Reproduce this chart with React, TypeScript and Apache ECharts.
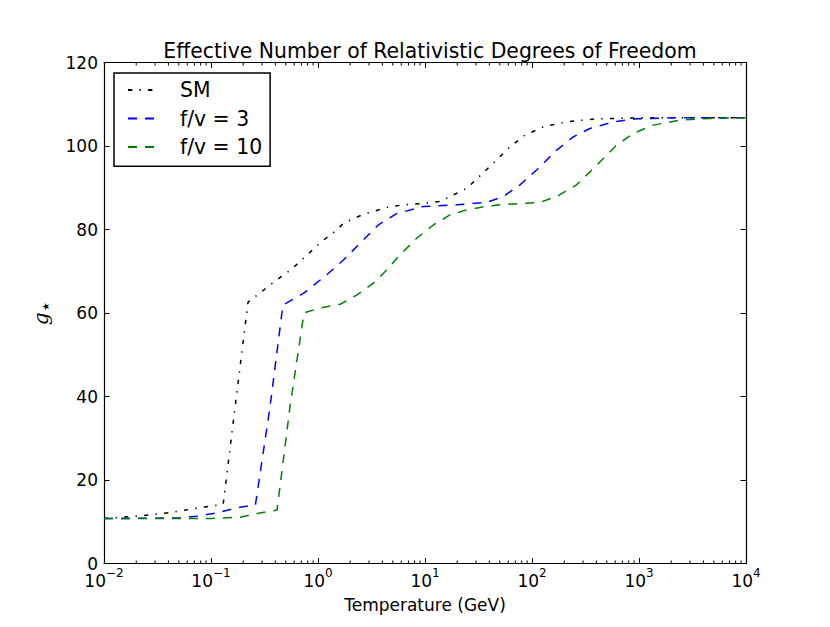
import React, { useEffect, useRef } from "react";
import * as echarts from "echarts";

const TITLE = "Effective Number of Relativistic Degrees of Freedom";
const X_NAME = "Temperature (GeV)";
const SERIES_NAMES = ["SM", "f/v = 3", "f/v = 10"];
const COLORS = ["#000000", "#0000ff", "#008000"];

const smT = [0.01, 0.0218, 0.044, 0.068, 0.116, 0.13, 0.168, 0.222, 0.41, 0.568, 0.79, 1.08, 1.5, 1.73, 2.58, 4.4, 5.84, 9, 13.8, 24.7, 43.5, 62.3, 86, 128, 211, 403, 1000, 10000];
const smG = [10.75, 11.4, 12.3, 13.1, 14.0, 14.2, 37.5, 62.6, 67.9, 70.5, 73.9, 77.1, 79.9, 81.5, 83.5, 85.3, 85.8, 86.2, 86.7, 89.9, 95.9, 99.8, 102.6, 104.6, 105.8, 106.5, 106.75, 106.75];

const fv3T = [0.01, 0.051, 0.079, 0.121, 0.187, 0.26, 0.356, 0.47, 0.73, 1.2, 1.73, 2.65, 3.66, 5.43, 9.6, 19.8, 37.8, 54, 77.3, 111, 170, 243, 348, 575, 951, 2000, 10000];
const fv3G = [10.75, 10.9, 11.4, 12.3, 13.5, 14.0, 37.5, 61.9, 64.7, 69.1, 72.7, 77.5, 81.1, 83.8, 85.5, 85.9, 86.5, 87.9, 90.7, 94.3, 99.0, 102.2, 104.2, 105.8, 106.5, 106.75, 106.75];

const fv10T = [0.01, 0.1, 0.187, 0.287, 0.414, 0.547, 0.74, 1.04, 1.61, 2.3, 3.29, 4.39, 5.84, 8.36, 12.0, 17.1, 24.5, 37.8, 54, 119, 176, 261, 348, 464, 618, 885, 1361, 2416, 4600, 10000];
const fv10G = [10.75, 10.8, 11.1, 12.1, 12.8, 37.5, 60.0, 61.2, 62.1, 64.3, 67.1, 70.3, 73.9, 77.9, 81.1, 83.5, 84.7, 85.6, 86.0, 86.5, 88.1, 90.7, 93.8, 97.0, 100.2, 103.0, 105.0, 106.2, 106.6, 106.75];

const X_MIN = 0.01;
const X_MAX = 10000;
const Y_MIN = 0;
const Y_MAX = 120;
const Y_STEP = 20;

const minorTicks: number[] = [];
for (let e = -2; e < 4; e++) {
  for (let m = 2; m <= 9; m++) minorTicks.push(m * Math.pow(10, e));
}

const FONT = "DejaVu Sans";

export default function App() {
  const ref = useRef<HTMLDivElement>(null);
  useEffect(() => {
    document.body.style.margin = "0";
    const chart = echarts.init(ref.current!, null, { renderer: "svg" });
    const pairs = (xs: number[], ys: number[]) => xs.map((x, i) => [x, ys[i]]);
    const dashes: any[] = [[4.3, 7.2, 1.4, 7.2], [9, 8], [9, 8]];
    const datas = [pairs(smT, smG), pairs(fv3T, fv3G), pairs(fv10T, fv10G)];

    const xAxisBase = {
      type: "log",
      logBase: 10,
      min: X_MIN,
      max: X_MAX,
      splitNumber: 6,
      splitLine: { show: false },
      axisLine: { show: true, onZero: false, lineStyle: { color: "#000", width: 1.2 } },
      axisTick: { show: true, inside: true, length: 5.5, lineStyle: { color: "#000", width: 1 } },
      minorTick: { show: false },
    };

    chart.setOption({
      animation: false,
      backgroundColor: "#ffffff",
      textStyle: { fontFamily: FONT },
      title: {
        text: TITLE,
        left: 425,
        textAlign: "center",
        top: 36,
        textStyle: { fontFamily: FONT, fontSize: 20.4, fontWeight: "normal", color: "#000" },
      },
      grid: { left: 104, right: 84, top: 62.5, bottom: 63.5, containLabel: false },
      legend: {
        data: SERIES_NAMES,
        orient: "vertical",
        align: "left",
        left: 114,
        top: 73,
        itemWidth: 26,
        itemHeight: 14,
        itemGap: 8.5,
        padding: [7, 8, 9.2, 13],
        borderColor: "#000",
        borderWidth: 1.5,
        borderRadius: 0,
        backgroundColor: "#fff",
        itemStyle: { opacity: 0 },
        formatter: (name: string) => `{p|}{t|${name}}`,
        textStyle: {
          fontFamily: FONT,
          fontSize: 20.4,
          color: "#000",
          align: "left",
          rich: {
            p: { width: 21, height: 24, align: "left" },
            t: { fontFamily: FONT, fontSize: 20.4, color: "#000", lineHeight: 24, align: "left" },
          },
        },
      },
      xAxis: [
        {
          ...xAxisBase,
          position: "bottom",
          name: X_NAME,
          nameLocation: "middle",
          nameGap: 33,
          nameTextStyle: { fontFamily: FONT, fontSize: 17, color: "#000" },
          axisLabel: {
            show: true,
            margin: 3,
            color: "#000",
            formatter: (v: number) => {
              const e = Math.round(Math.log10(v));
              return `{b|10}{s|${e < 0 ? "\u2212" + -e : e}}`;
            },
            rich: {
              b: { fontFamily: FONT, fontSize: 17, color: "#000" },
              s: { fontFamily: FONT, fontSize: 12, color: "#000", padding: [0, 0, 16, 0] },
            },
          },
        },
        {
          ...xAxisBase,
          position: "top",
          axisLabel: { show: false },
        },
      ],
      yAxis: [
        {
          type: "value",
          min: Y_MIN,
          max: Y_MAX,
          interval: Y_STEP,
          position: "left",
          splitLine: { show: false },
          axisLine: { show: true, onZero: false, lineStyle: { color: "#000", width: 1.2 } },
          axisTick: { show: true, inside: true, length: 5.5, lineStyle: { color: "#000", width: 1 } },
          axisLabel: { show: true, margin: 6, color: "#000", fontFamily: FONT, fontSize: 17 },
          name: "{g|g}{s|\u22c6}",
          nameLocation: "middle",
          nameRotate: 90,
          nameGap: 37,
          nameTextStyle: {
            rich: {
              g: { fontFamily: "DejaVu Serif", fontStyle: "italic", fontSize: 20, color: "#000" },
              s: { fontFamily: FONT, fontSize: 19, color: "#000", padding: [9, 0, 0, 0] },
            },
          },
        },
        {
          type: "value",
          min: Y_MIN,
          max: Y_MAX,
          interval: Y_STEP,
          position: "right",
          splitLine: { show: false },
          axisLine: { show: true, onZero: false, lineStyle: { color: "#000", width: 1.2 } },
          axisTick: { show: true, inside: true, length: 5.5, lineStyle: { color: "#000", width: 1 } },
          axisLabel: { show: false },
        },
      ],
      series: [
        ...SERIES_NAMES.map((name, i) => ({
          name,
          type: "line",
          xAxisIndex: 0,
          yAxisIndex: 0,
          data: datas[i],
          symbol: "none",
          smooth: false,
          color: COLORS[i],
          lineStyle: { color: COLORS[i], width: 1.5, type: dashes[i] },
          z: 3,
        })),
        {
          type: "custom",
          name: "minor",
          xAxisIndex: 0,
          yAxisIndex: 0,
          silent: true,
          clip: false,
          data: minorTicks.map((v) => [v, Y_MIN]),
          renderItem: (_p: any, api: any) => {
            const b = api.coord([api.value(0), Y_MIN]);
            const t = api.coord([api.value(0), Y_MAX]);
            return {
              type: "group",
              children: [
                { type: "line", shape: { x1: b[0], y1: b[1], x2: b[0], y2: b[1] - 3 }, style: { stroke: "#000", lineWidth: 1 } },
                { type: "line", shape: { x1: t[0], y1: t[1], x2: t[0], y2: t[1] + 3 }, style: { stroke: "#000", lineWidth: 1 } },
              ],
            };
          },
          z: 4,
        },
      ],
    });
    return () => chart.dispose();
  }, []);
  return <div ref={ref} style={{ width: 830, height: 627 }} />;
}
